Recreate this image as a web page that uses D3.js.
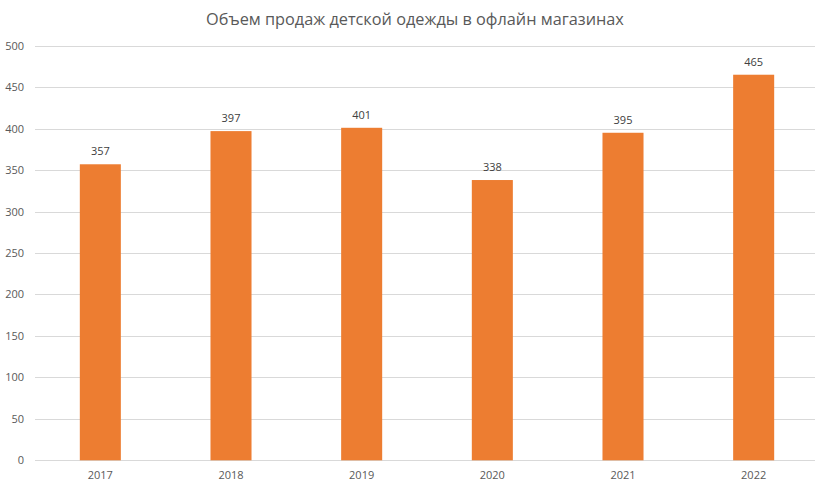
<!DOCTYPE html>
<html><head><meta charset="utf-8">
<script src="https://cdn.jsdelivr.net/npm/d3@7"></script>
<style>body{margin:0;background:#fff}svg{display:block;font-family:"Open Sans","Noto Sans",sans-serif}</style>
</head><body>
<svg id="c" width="815" height="486"></svg>
<script>
const categories = ["2017","2018","2019","2020","2021","2022"];
const values = [357,397,401,338,395,465];
const yTicks = [0,50,100,150,200,250,300,350,400,450,500];
const title = "Объем продаж детской одежды в офлайн магазинах";

const svg = d3.select("#c");
const x = d3.scaleBand().domain(categories).range([35,819]).paddingInner(0.686).paddingOuter(0.343);
const y = d3.scaleLinear().domain([0,500]).range([460.3,45.7]);

svg.append("text").attr("x",415).attr("y",25).attr("text-anchor","middle")
  .attr("font-size",16.3).attr("fill","#595959").text(title);

svg.append("g").selectAll("line").data(yTicks).join("line")
  .attr("x1",35).attr("x2",819).attr("y1",d=>Math.round(y(d))+0.5).attr("y2",d=>Math.round(y(d))+0.5)
  .attr("stroke","#d9d9d9").attr("stroke-width",1);

svg.append("g").selectAll("text").data(yTicks).join("text")
  .attr("x",24).attr("y",d=>y(d)+4).attr("text-anchor","end")
  .attr("font-size",11).attr("fill","#595959").text(d=>d);

svg.append("g").selectAll("rect").data(values).join("rect")
  .attr("x",(d,i)=>x(categories[i])).attr("width",x.bandwidth())
  .attr("y",d=>y(d)).attr("height",d=>y(0)-y(d)).attr("fill","#ED7D31");

svg.append("g").selectAll("text").data(values).join("text")
  .attr("x",(d,i)=>x(categories[i])+x.bandwidth()/2).attr("y",d=>y(d)-9)
  .attr("text-anchor","middle").attr("font-size",11).attr("fill","#404040").text(d=>d);

svg.append("g").selectAll("text").data(categories).join("text")
  .attr("x",d=>x(d)+x.bandwidth()/2).attr("y",479).attr("text-anchor","middle")
  .attr("font-size",11).attr("fill","#595959").text(d=>d);
</script>
</body></html>
